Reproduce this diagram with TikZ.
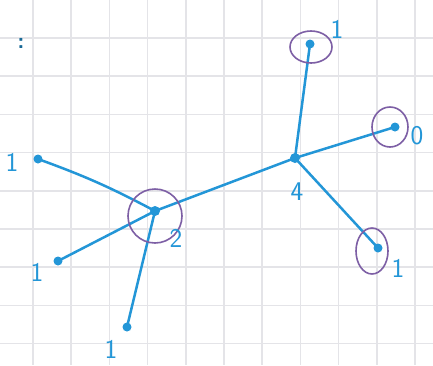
\documentclass[tikz,border=0pt]{standalone}
\usepackage{tikz}
\usetikzlibrary{positioning}
\definecolor{pen}{RGB}{35,150,215}
\definecolor{ringcol}{RGB}{125,95,165}
\definecolor{gridcol}{RGB}{228,228,232}

\begin{document}
\begin{tikzpicture}[x=1pt,y=-1pt,
  dot/.style={circle,fill=pen,inner sep=0pt,minimum size=9pt},
  lbl/.style={text=pen,font=\sffamily\fontsize{27}{27}\selectfont,inner sep=0pt},
  edge/.style={draw=pen,line width=2.5pt},
  ringline/.style={draw=ringcol,line width=1.6pt}]
\useasboundingbox[fill=white] (0,0) rectangle (433,365);
\foreach \k in {0,...,10} \draw[gridcol,line width=1.5pt] ({33+38.2*\k},0) -- ({33+38.2*\k},365);
\foreach \k in {0,...,8} \draw[gridcol,line width=1.5pt] (0,{38+38.2*\k}) -- (433,{38+38.2*\k});
\node[text=pen!70!black,font=\bfseries\sffamily\fontsize{22}{22}\selectfont] (colon) at (21,43) {:};
% vertices
\node[dot] (top) at (310,44) {};
\node[dot] (right) at (395,127) {};
\node[dot,minimum size=10pt] (hub) at (295,158) {};
\node[dot] (low) at (378,248) {};
\node[dot,minimum size=10pt] (mid) at (155,211) {};
\node[dot] (left) at (38,159) {};
\node[dot] (lower) at (58,261) {};
\node[dot] (bottom) at (127,327) {};
% edges
\draw[edge] (hub.center) -- (top.center);
\draw[edge] (hub.center) -- (right.center);
\draw[edge] (hub.center) -- (low.center);
\draw[edge] (hub.center) -- (mid.center);
\draw[edge] (left.center) to[bend left=4] (mid.center);
\draw[edge] (mid.center) -- (lower.center);
\draw[edge] (mid.center) -- (bottom.center);
% rings
\draw[ringline] (311,47) ellipse [x radius=21,y radius=16];
\draw[ringline] (390,127) ellipse [x radius=18,y radius=20];
\draw[ringline] (372,251) ellipse [x radius=16,y radius=23];
\draw[ringline] (155,216) ellipse [x radius=27,y radius=27];
% labels
\node[lbl] (ltop) at (337,29) {1};
\node[lbl] (lright) at (417,136) {0};
\node[lbl] (lhub) at (297,192) {4};
\node[lbl] (lmid) at (176,238) {2};
\node[lbl] (lleft) at (12,162) {1};
\node[lbl] (llower) at (37,272) {1};
\node[lbl] (lbottom) at (111,349) {1};
\node[lbl] (llow) at (398,268) {1};
\end{tikzpicture}
\end{document}
